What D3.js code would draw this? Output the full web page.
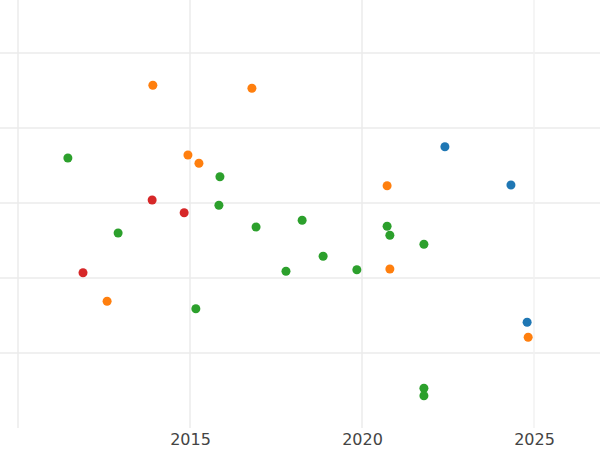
<!DOCTYPE html>
<html><head><meta charset="utf-8">
<script src="https://cdn.jsdelivr.net/npm/d3@7"></script>
<style>body{margin:0;background:#fff}</style></head>
<body><div id="chart"></div>
<script>
// data
const orangeX = [2013.92, 2016.80, 2014.94, 2015.26, 2020.73, 2020.81, 2012.59, 2024.83];
const orangeY = [4.57, 4.53, 3.64, 3.53, 3.23, 2.12, 1.69, 1.21];
const greenX = [2011.45, 2015.87, 2015.84, 2012.91, 2016.92, 2018.26, 2020.73, 2020.81, 2021.8, 2018.87, 2017.79, 2019.85, 2015.17, 2021.8, 2021.8];
const greenY = [3.6, 3.35, 2.97, 2.6, 2.68, 2.77, 2.69, 2.57, 2.45, 2.29, 2.09, 2.11, 1.59, 0.53, 0.43];
const redX = [2013.9, 2014.83, 2011.89];
const redY = [3.04, 2.87, 2.07];
const blueX = [2022.41, 2024.33, 2024.8];
const blueY = [3.75, 3.24, 1.41];
const xTicks = [2015, 2020, 2025];
const xGrid = [2010, 2015, 2020, 2025];
const yGrid = [1, 2, 3, 4, 5];

const width = 600, height = 450;
const svg = d3.select("#chart").append("svg")
  .attr("width", width).attr("height", height);

const x = d3.scaleLinear().domain([2010, 2025]).range([18, 534]);
const y = d3.scaleLinear().domain([0, 5]).range([428, 53]);

// grid
svg.append("g").selectAll("line").data(yGrid).join("line")
  .attr("x1", 0).attr("x2", width)
  .attr("y1", d => y(d)).attr("y2", d => y(d))
  .attr("stroke", "#ebebeb").attr("stroke-width", 1.5);
svg.append("g").selectAll("line").data(xGrid).join("line")
  .attr("x1", d => x(d)).attr("x2", d => x(d))
  .attr("y1", 0).attr("y2", 428)
  .attr("stroke", d => d == 2025 ? "#f2f2f2" : "#ebebeb").attr("stroke-width", 1.5);

// x axis labels
const ax = svg.append("g")
  .attr("transform", "translate(0,428)")
  .call(d3.axisBottom(x).tickValues(xTicks).tickFormat(d3.format("d")).tickSize(0).tickPadding(6));
ax.select(".domain").remove();
ax.selectAll("text").attr("font-family", "DejaVu Sans").attr("font-size", 16).attr("fill", "#444");

// points
const series = [
  {xs: blueX, ys: blueY, color: "#1f77b4"},
  {xs: orangeX, ys: orangeY, color: "#ff7f0e"},
  {xs: greenX, ys: greenY, color: "#2ca02c"},
  {xs: redX, ys: redY, color: "#d62728"}
];
series.forEach(s => {
  svg.append("g").selectAll("circle").data(s.xs.map((v, i) => [v, s.ys[i]])).join("circle")
    .attr("cx", d => x(d[0])).attr("cy", d => y(d[1]))
    .attr("r", 4.5).attr("fill", s.color);
});
</script></body></html>
